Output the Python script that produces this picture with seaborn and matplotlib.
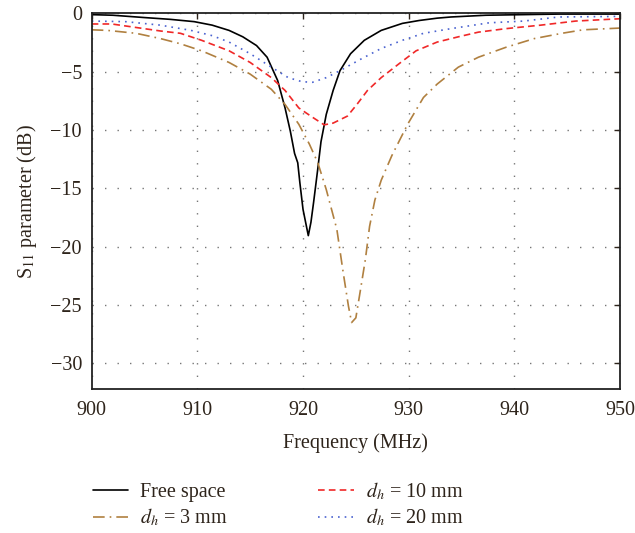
import seaborn as sns
import matplotlib.pyplot as plt
import pandas as pd

# valori (MHz, dB)
free_f = [900, 902, 905, 907.4, 909.7, 911.4, 913.0, 914.3, 915.6, 916.6, 917.6, 918.3,
          918.8, 919.2, 919.5, 919.7, 920.0, 920.5, 920.75, 921.0, 921.4, 921.7, 922.2,
          922.85, 923.5, 924.5, 925.8, 927.4, 929.4, 931.0, 932.7, 934.0, 937.3, 944.2, 950]
free_s11 = [-0.1, -0.15, -0.35, -0.5, -0.7, -1.0, -1.45, -2.0, -2.75, -3.75, -5.75, -8.1,
            -10.1, -12.0, -12.8, -14.5, -16.8, -19.05, -17.9, -16.2, -13.3, -11.0, -8.65,
            -6.6, -4.9, -3.45, -2.3, -1.45, -0.85, -0.6, -0.4, -0.3, -0.15, -0.05, -0.05]

d3_f = [900, 901.5, 904.2, 906.5, 908.4, 910.4, 913.0, 915.0, 917.0, 918.3, 919.6, 920.6,
        921.4, 922.2, 923.2, 923.8, 924.3, 924.6, 925.0, 925.4, 925.9, 926.3, 926.8, 927.4,
        928.4, 929.9, 931.4, 932.7, 934.7, 936.6, 939.2, 941.9, 944.5, 946.5, 950]
d3_s11 = [-1.4, -1.45, -1.7, -2.15, -2.6, -3.2, -4.2, -5.2, -6.5, -7.8, -9.5, -11.2,
          -12.8, -15.1, -18.5, -22.2, -25.1, -26.5, -26.1, -23.9, -21.1, -18.25, -16.0, -14.3,
          -12.2, -9.5, -7.2, -6.05, -4.6, -3.75, -2.9, -2.15, -1.7, -1.4, -1.25]

d10_f = [900, 901.9, 904.2, 906.5, 908.4, 910.4, 913.0, 915.0, 917.0, 918.3, 919.6, 920.9,
         922.0, 922.85, 924.2, 925.1, 926.1, 927.4, 929.1, 930.7, 932.7, 934.7, 936.6,
         939.2, 942.5, 945.8, 950]
d10_s11 = [-0.9, -0.9, -1.2, -1.5, -1.7, -2.3, -3.2, -4.2, -5.5, -6.6, -8.1, -8.9,
           -9.55, -9.4, -8.8, -7.8, -6.6, -5.5, -4.3, -3.2, -2.45, -2.0, -1.6,
           -1.3, -1.0, -0.65, -0.45]

d20_f = [900, 903.2, 906.5, 909.4, 911.4, 913.0, 915.0, 917.0, 918.6, 919.9, 920.9, 922.2,
         923.5, 925.5, 927.4, 929.4, 931.4, 934.0, 937.6, 940.9, 944.2, 950]
d20_s11 = [-0.65, -0.7, -1.0, -1.45, -1.9, -2.45, -3.45, -4.6, -5.5, -5.85, -5.9, -5.5,
           -4.9, -3.9, -3.0, -2.3, -1.7, -1.3, -0.8, -0.65, -0.3, -0.25]

x_ticks = [900, 910, 920, 930, 940, 950]
y_ticks = [0, -5, -10, -15, -20, -25, -30]

sns.set_theme(style='white')
text_col = '#2e241b'
plt.rcParams['font.family'] = ['Liberation Serif', 'DejaVu Serif']
plt.rcParams['mathtext.fontset'] = 'stix'
plt.rcParams['text.color'] = text_col
plt.rcParams['xtick.color'] = text_col
plt.rcParams['ytick.color'] = text_col
plt.rcParams['axes.labelcolor'] = text_col

fig = plt.figure(figsize=(6.35, 5.33), dpi=100)
ax = fig.add_axes([0.1444, 0.2702, 0.8320, 0.7045])

series = [
    (free_f, free_s11, 'Free space', 'black', '-'),
    (d3_f, d3_s11, r'$d_h$ = 3 mm', '#b08040', (0, (7, 3, 1, 3))),
    (d10_f, d10_s11, r'$d_h$ = 10 mm', '#f02828', (0, (4, 2.5))),
    (d20_f, d20_s11, r'$d_h$ = 20 mm', '#4a62d0', (0, (1, 3))),
]
for f, s, lab, col, ls in series:
    df = pd.DataFrame({'f': f, 's11': s})
    sns.lineplot(data=df, x='f', y='s11', ax=ax, color=col, linestyle=ls,
                 linewidth=1.2, label=lab, estimator=None, sort=False)

ax.set_xlim(900, 950)
ax.set_ylim(-32.2, 0)
ax.set_xticks(x_ticks)
ax.set_yticks(y_ticks)
ax.set_yticklabels(['0' if v == 0 else '\u2212' + str(-v) for v in y_ticks])
ax.grid(True, color='#777777', linestyle=(0, (1, 8)), linewidth=1)
ax.tick_params(direction='in', top=True, right=True, length=4, width=1,
               labelsize=14.5)
ax.tick_params(axis='x', pad=9)
ax.tick_params(axis='y', pad=7)
for sp in ax.spines.values():
    sp.set_color('#222222')
    sp.set_linewidth(1.3)

ax.set_xlabel('Frequency (MHz)', fontsize=14.5, labelpad=9)
ax.set_ylabel(r'S$_{11}$ parameter (dB)', fontsize=14.5, labelpad=8)

handles, labels = ax.get_legend_handles_labels()
ax.get_legend().remove()
fig.legend(handles, labels, ncol=2, frameon=False, fontsize=14.5,
           loc='upper left', bbox_to_anchor=(0.1465, 0.099), borderpad=0,
           borderaxespad=0, handlelength=1.75, columnspacing=4.5,
           labelspacing=0.25, handletextpad=0.6)

fig.savefig('out.png', dpi=100)
